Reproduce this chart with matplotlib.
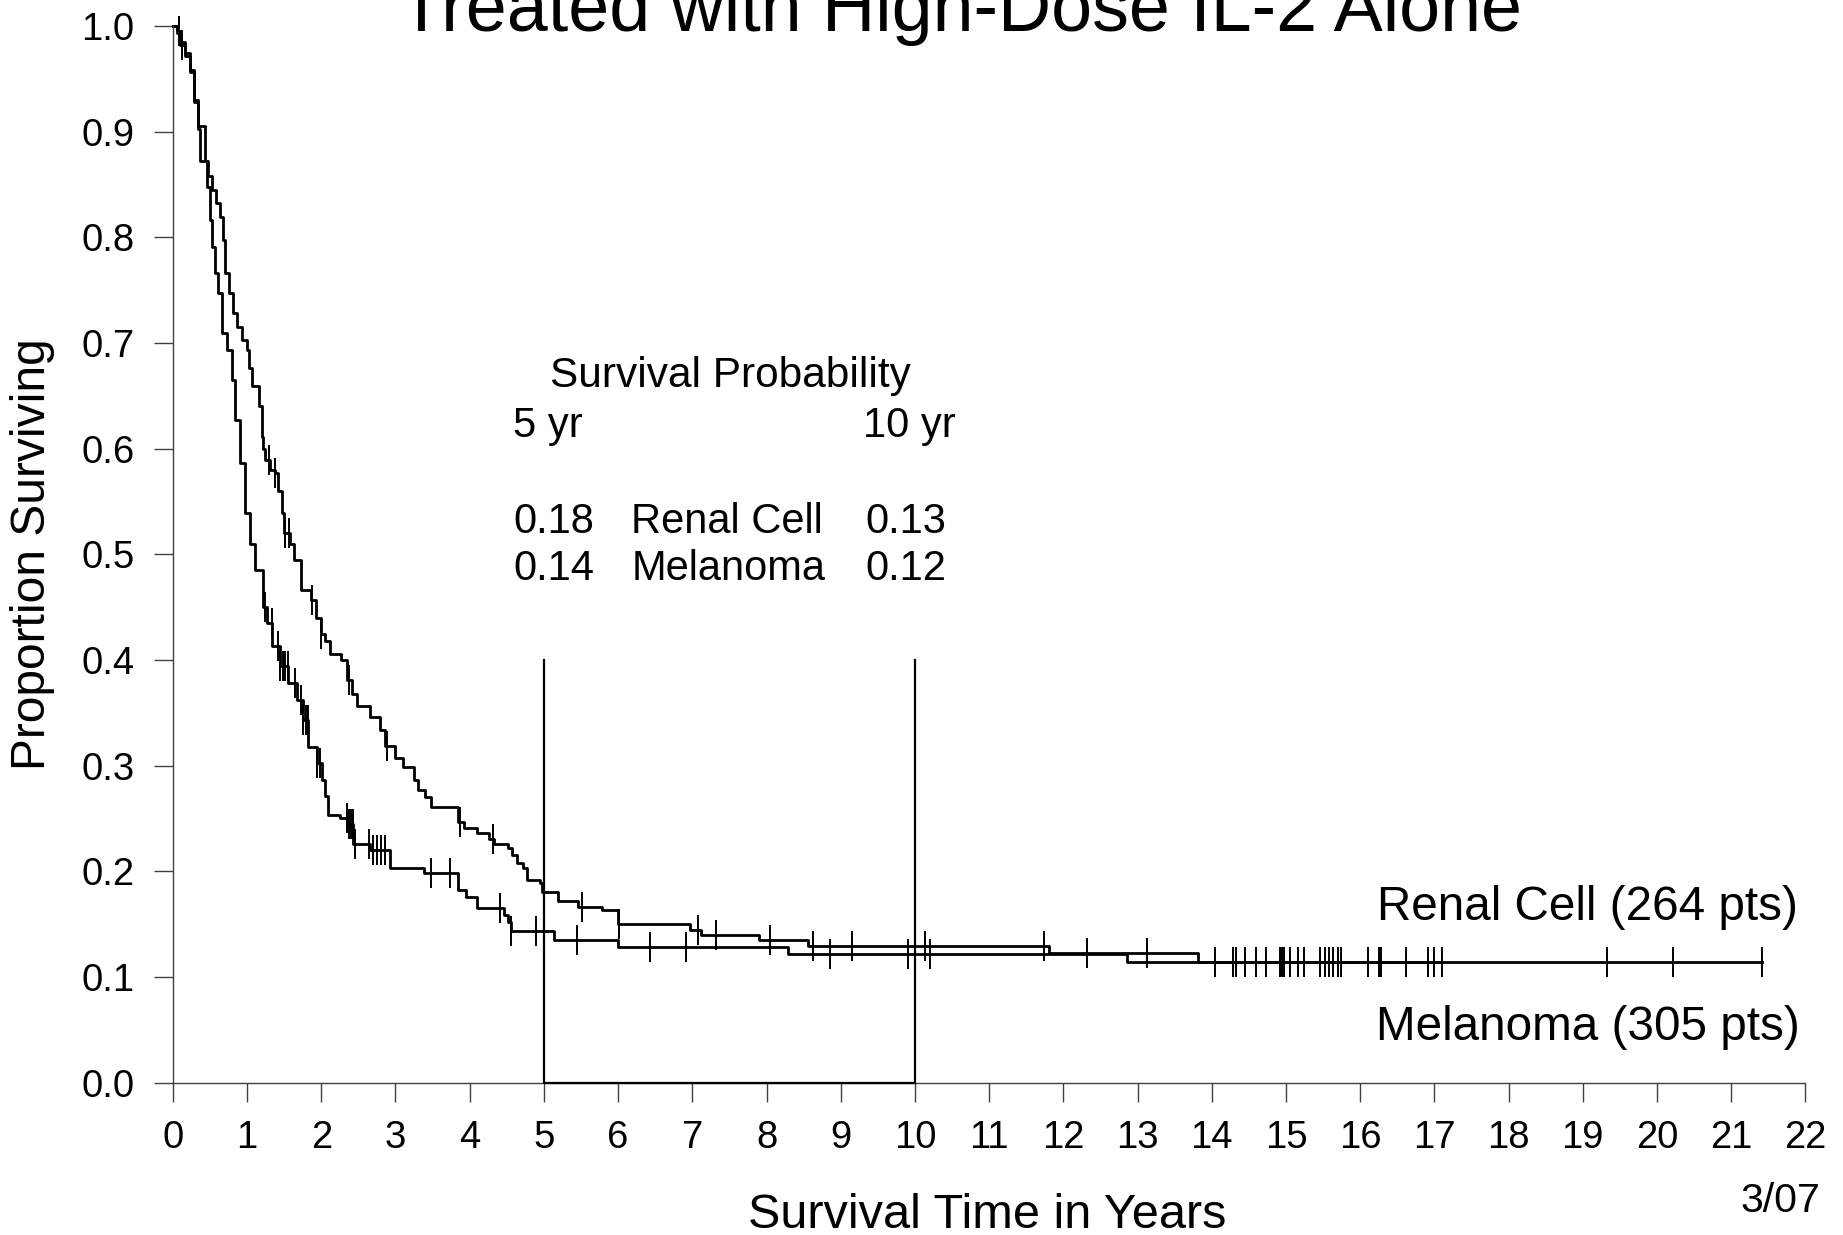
import numpy as np
import matplotlib
matplotlib.use("Agg")
import matplotlib.pyplot as plt

plt.rcParams['font.family'] = ['Liberation Sans', 'DejaVu Sans']

# Kaplan-Meier curves (years, proportion surviving)
renal_t = [0.00, 0.05, 0.10, 0.164, 0.232, 0.29, 0.344, 0.434, 0.48, 0.524,
           0.58, 0.636, 0.681, 0.703, 0.76, 0.816, 0.87, 0.928, 0.996, 1.03,
           1.063, 1.166, 1.198, 1.22, 1.242, 1.31, 1.377, 1.42, 1.467, 1.50,
           1.579, 1.63, 1.73, 1.86, 1.93, 1.99, 2.05, 2.12, 2.27, 2.35,
           2.42, 2.48, 2.66, 2.79, 2.86, 2.99, 3.10, 3.25, 3.30, 3.40,
           3.48, 3.84, 3.92, 4.10, 4.26, 4.33, 4.51, 4.57, 4.64, 4.72,
           4.77, 4.95, 4.98, 5.19, 5.46, 5.78, 6.00, 6.97, 7.12, 7.90,
           8.56, 11.80, 13.82, 21.42]
renal_s = [1.000, 0.995, 0.985, 0.974, 0.958, 0.930, 0.905, 0.872, 0.858, 0.845,
           0.832, 0.819, 0.797, 0.766, 0.747, 0.728, 0.715, 0.703, 0.693, 0.676,
           0.659, 0.640, 0.611, 0.600, 0.589, 0.580, 0.577, 0.560, 0.539, 0.520,
           0.510, 0.495, 0.466, 0.457, 0.440, 0.425, 0.418, 0.406, 0.400, 0.381,
           0.368, 0.356, 0.346, 0.334, 0.319, 0.307, 0.299, 0.286, 0.277, 0.270,
           0.261, 0.247, 0.241, 0.236, 0.231, 0.226, 0.222, 0.215, 0.208, 0.203,
           0.192, 0.189, 0.180, 0.172, 0.166, 0.163, 0.150, 0.1444, 0.1396, 0.135,
           0.1296, 0.1224, 0.1144, 0.1144]

mel_t = [0.00, 0.05, 0.10, 0.164, 0.232, 0.29, 0.344, 0.367, 0.456, 0.501,
         0.524, 0.569, 0.613, 0.659, 0.726, 0.793, 0.838, 0.906, 0.973, 1.04,
         1.108, 1.22, 1.265, 1.332, 1.445, 1.557, 1.669, 1.759, 1.826, 1.939,
         2.006, 2.051, 2.096, 2.253, 2.343, 2.432, 2.657, 2.927, 3.38, 3.84,
         3.95, 4.10, 4.46, 4.51, 4.56, 5.13, 6.00, 8.29, 12.86, 17.10]
mel_s = [1.000, 0.993, 0.982, 0.972, 0.956, 0.928, 0.902, 0.872, 0.848, 0.816,
         0.791, 0.766, 0.747, 0.709, 0.693, 0.665, 0.627, 0.586, 0.539, 0.510,
         0.485, 0.450, 0.435, 0.413, 0.394, 0.378, 0.362, 0.343, 0.318, 0.302,
         0.286, 0.271, 0.253, 0.250, 0.245, 0.226, 0.220, 0.203, 0.198, 0.182,
         0.176, 0.165, 0.159, 0.152, 0.143, 0.135, 0.1286, 0.1214, 0.1144, 0.1144]

# censored observations (years)
renal_cens = [0.08, 1.29, 1.38, 1.51, 1.56, 1.87, 1.99, 2.37, 2.88, 3.87,
              4.31, 5.51, 6.01, 7.08, 7.32, 8.05, 8.63, 9.15, 10.14, 11.74,
              12.32, 13.13, 14.05, 14.33, 14.45, 14.73, 14.92, 14.97, 15.06,
              15.16, 15.46, 15.52, 15.64, 15.70, 16.10, 16.25, 16.62, 16.91,
              17.00, 19.33, 20.21, 21.42]
mel_cens = [0.12, 1.24, 1.33, 1.42, 1.45, 1.48, 1.51, 1.55, 1.64, 1.73,
            1.76, 1.79, 1.82, 1.94, 1.98, 2.34, 2.37, 2.40, 2.43, 2.45,
            2.64, 2.70, 2.75, 2.80, 2.86, 3.48, 3.74, 4.41, 4.56, 4.89,
            5.45, 6.43, 6.92, 8.85, 9.90, 10.20, 14.29, 14.59, 14.95, 15.24,
            15.58, 15.74, 16.28, 17.10]

yticks = [0.0, 0.1, 0.2, 0.3, 0.4, 0.5, 0.6, 0.7, 0.8, 0.9, 1.0]
xticks = list(range(0, 23))

table_head = "Survival Probability"
table_rows = [("0.18", "Renal Cell", "0.13"), ("0.14", "Melanoma", "0.12")]


def surv_at(times, surv, when):
    idx = np.searchsorted(times, when, side='right') - 1
    return np.asarray(surv)[idx]


def main():
    fig = plt.figure(figsize=(18.43, 12.35), dpi=100)
    ax = fig.add_axes([0.0938, 0.1234, 0.8858, 0.8556])

    for t, s, cens in ((renal_t, renal_s, renal_cens), (mel_t, mel_s, mel_cens)):
        ax.step(t, s, where='post', color='black', lw=2.0, clip_on=False)
        ax.plot(cens, surv_at(t, s, cens), ls='none', marker='|', ms=21,
                mew=1.4, color='black', clip_on=False)

    # 5 and 10 year markers
    ax.plot([5, 5, 10, 10], [0.4, 0.0, 0.0, 0.4], color='black', lw=1.6,
            clip_on=False, zorder=3)

    ax.set_xlim(0, 22)
    ax.set_ylim(0, 1.0)
    ax.set_xticks(xticks)
    ax.set_yticks(yticks)
    ax.set_yticklabels([f"{v:.1f}" for v in yticks])
    ax.tick_params(axis='both', direction='out', length=13.7, width=1.0,
                   color='#404040', labelsize=27.5)
    ax.tick_params(axis='x', pad=13)
    ax.tick_params(axis='y', pad=14)
    for side in ('top', 'right'):
        ax.spines[side].set_visible(False)
    for side in ('left', 'bottom'):
        ax.spines[side].set_color('#404040')
        ax.spines[side].set_linewidth(1.0)

    ax.set_ylabel("Proportion Surviving", fontsize=34.5)
    ax.yaxis.set_label_coords(-0.0862, 0.5)
    ax.yaxis.label.set_va('center')
    fig.text(0.5356, 0.0057, "Survival Time in Years", fontsize=35,
             ha='center', va='baseline')

    fig.text(0.5214, 0.9749, "Treated with High-Dose IL-2 Alone", fontsize=53,
             ha='center', va='baseline')
    fig.text(0.9875, 0.0186, "3/07", fontsize=29.5, ha='right', va='baseline')

    # survival probability table
    fs = 30
    ax.text(7.51, 0.6586, table_head, fontsize=30.5, ha='center', va='baseline')
    ax.text(4.588, 0.6112, "5 yr", fontsize=fs, ha='left', va='baseline')
    ax.text(9.305, 0.6112, "10 yr", fontsize=fs, ha='left', va='baseline')
    for (a, name, b), yb in zip(table_rows, (0.5198, 0.4758)):
        ax.text(4.588, yb, a, fontsize=fs, ha='left', va='baseline')
        ax.text(6.18, yb, name, fontsize=fs, ha='left', va='baseline')
        ax.text(9.327, yb, b, fontsize=fs, ha='left', va='baseline')

    ax.text(21.90, 0.1539, "Renal Cell (264 pts)", fontsize=34.3,
            ha='right', va='baseline')
    ax.text(21.92, 0.0403, "Melanoma (305 pts)", fontsize=34.3,
            ha='right', va='baseline')

    fig.savefig("out.png", dpi=100)
    plt.close(fig)


if __name__ == "__main__":
    main()
